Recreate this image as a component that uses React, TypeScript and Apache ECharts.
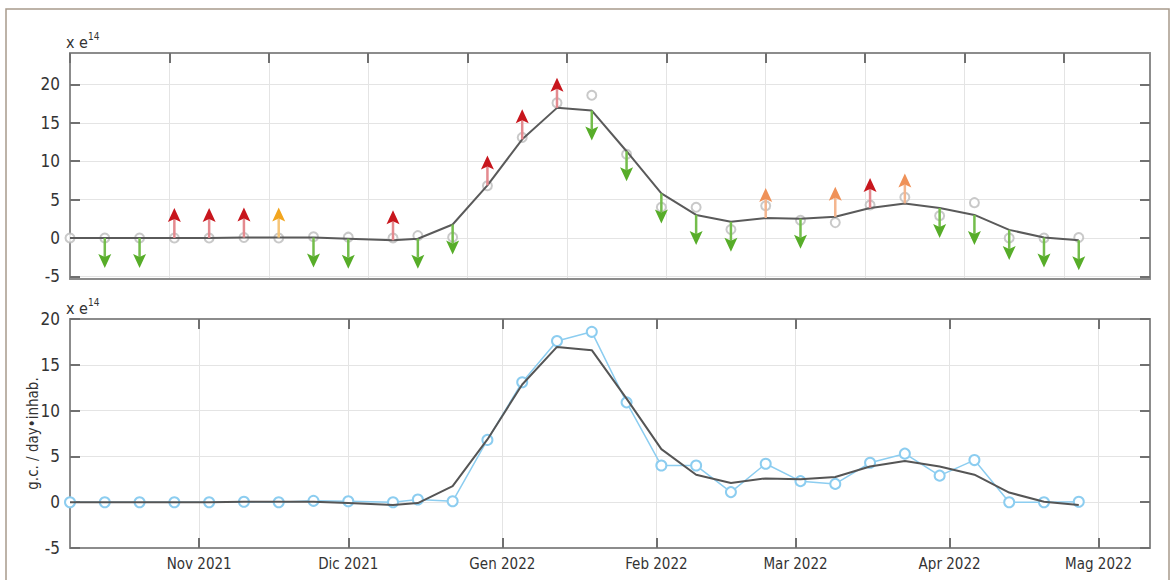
import { useEffect, useRef } from 'react';
import * as echarts from 'echarts';

// ---- data (values in units of e14 g.c./day·inhab.) ----
const dates = [
  '2021-10-06', '2021-10-13', '2021-10-20', '2021-10-27', '2021-11-03', '2021-11-10',
  '2021-11-17', '2021-11-24', '2021-12-01', '2021-12-10', '2021-12-15', '2021-12-22',
  '2021-12-29', '2022-01-05', '2022-01-12', '2022-01-19', '2022-01-26', '2022-02-02',
  '2022-02-09', '2022-02-16', '2022-02-23', '2022-03-02', '2022-03-09', '2022-03-16',
  '2022-03-23', '2022-03-30', '2022-04-06', '2022-04-13', '2022-04-20', '2022-04-27',
];
const observed = [
  0, 0, 0, 0, 0, 0.05, 0, 0.15, 0.1, 0, 0.3, 0.1,
  6.8, 13.1, 17.6, 18.6, 10.9, 4.0, 4.0, 1.1, 4.2, 2.3,
  2.0, 4.3, 5.3, 2.9, 4.6, 0, 0, 0.05,
];
const trend = [
  0, 0, 0, 0, 0, 0.05, 0.05, 0.05, -0.1, -0.3, -0.1, 1.75,
  6.85, 12.85, 16.95, 16.6, 11.3, 5.8, 3.0, 2.1, 2.6, 2.5,
  2.75, 3.9, 4.5, 3.9, 3.0, 1.05, 0.05, -0.3,
];
const signals = [
  '', 'decrease', 'decrease', 'increase', 'increase', 'increase',
  'increaseLow', 'decrease', 'decrease', 'increase', 'decrease', 'decrease',
  'increase', 'increase', 'increase', 'decrease', 'decrease', 'decrease',
  'decrease', 'decrease', 'increaseMid', 'decrease', 'increaseMid', 'increase',
  'increaseMid', 'decrease', 'decrease', 'decrease', 'decrease', 'decrease',
];
const monthTicks = ['2021-11-01', '2021-12-01', '2022-01-01', '2022-02-01', '2022-03-01', '2022-04-01', '2022-05-01'];
const monthLabels = ['Nov 2021', 'Dic 2021', 'Gen 2022', 'Feb 2022', 'Mar 2022', 'Apr 2022', 'Mag 2022'];
const yTicksTop = [-5, 0, 5, 10, 15, 20];
const yTicksBottom = [-5, 0, 5, 10, 15, 20];
const topGridStepDays = 20;

// ---- helpers ----
const ts = (s: string) => {
  const [y, m, d] = s.split('-').map(Number);
  return Date.UTC(y, m - 1, d);
};
const DAY = 864e5;
const X_MIN = ts('2021-10-06');
const X_MAX = ts('2022-05-11') + 8 * 3600e3;
const topGridTicks: number[] = [];
for (let t = X_MIN; t <= X_MAX; t += topGridStepDays * DAY) topGridTicks.push(t);
const monthTickTimes = monthTicks.map(ts);

const FONT = "'DejaVu Sans Condensed', 'DejaVu Sans', sans-serif";
const AXIS_COLOR = '#8c8c8c';
const GRID_COLOR = '#e4e4e4';
const TEXT_COLOR = '#333333';

const SIGNAL_STYLE: Record<string, { dir: number; head: string; shaft: string }> = {
  increase: { dir: 1, head: '#c8161d', shaft: '#e48a8f' },
  increaseLow: { dir: 1, head: '#f2a51e', shaft: '#f6c67a' },
  increaseMid: { dir: 1, head: '#ef9158', shaft: '#f4b68f' },
  decrease: { dir: -1, head: '#57ad29', shaft: '#74bd4c' },
};

export default function App() {
  const ref = useRef<HTMLDivElement>(null);

  useEffect(() => {
    if (!ref.current) return;
    const chart = echarts.init(ref.current, undefined, { renderer: 'svg' });

    const obsData = dates.map((d, i) => [ts(d), observed[i]]);
    const trendData = dates.map((d, i) => [ts(d), trend[i]]);

    const baseX = (gridIndex: number, position: 'top' | 'bottom', custom: number[], opts: any) => ({
      type: 'value',
      gridIndex,
      position,
      min: X_MIN,
      max: X_MAX,
      axisLine: { show: true, onZero: false, lineStyle: { color: AXIS_COLOR, width: 2 } },
      axisTick: { show: opts.tick, inside: true, length: 10, customValues: custom, lineStyle: { color: '#707070', width: 2 } },
      axisLabel: opts.label
        ? {
            show: true,
            customValues: custom,
            margin: 8,
            color: TEXT_COLOR,
            fontSize: 15,
            fontFamily: FONT,
            formatter: (v: number) => {
              const i = monthTickTimes.indexOf(v);
              return i >= 0 ? monthLabels[i] : '';
            },
          }
        : { show: false, customValues: custom },
      splitLine: { show: opts.split, lineStyle: { color: GRID_COLOR, width: 1 } },
    });

    const baseY = (gridIndex: number, position: 'left' | 'right', min: number, max: number, ticks: number[], opts: any) => ({
      type: 'value',
      gridIndex,
      position,
      min,
      max,
      name: opts.name || '',
      nameLocation: 'middle',
      nameGap: 30,
      nameMoveOverlap: false,
      nameTextStyle: { color: TEXT_COLOR, fontSize: 15, fontFamily: FONT },
      axisLine: { show: true, onZero: false, lineStyle: { color: AXIS_COLOR, width: 2 } },
      axisTick: { show: true, inside: true, length: 10, customValues: ticks, lineStyle: { color: '#707070', width: 2 } },
      axisLabel: opts.label
        ? { show: true, customValues: ticks, margin: 10, color: TEXT_COLOR, fontSize: 17, fontFamily: FONT }
        : { show: false, customValues: ticks },
      splitLine: { show: opts.split, lineStyle: { color: GRID_COLOR, width: 1 } },
    });

    const expLabel = (y: number) => [
      { type: 'text', x: 66, y, style: { text: 'x', fontSize: 16, fontFamily: FONT, fill: TEXT_COLOR, verticalAlign: 'middle' } },
      { type: 'text', x: 79, y, style: { text: 'e', fontSize: 16, fontFamily: FONT, fill: TEXT_COLOR, verticalAlign: 'middle' } },
      { type: 'text', x: 88, y: y - 6, style: { text: '14', fontSize: 10, fontFamily: FONT, fill: TEXT_COLOR, verticalAlign: 'middle' } },
    ];

    const option: any = {
      animation: false,
      backgroundColor: '#ffffff',
      grid: [
        { left: 70, top: 53, width: 1080, height: 226 },
        { left: 70, top: 319, width: 1080, height: 229 },
      ],
      xAxis: [
        baseX(0, 'bottom', topGridTicks, { tick: false, label: false, split: true }),
        baseX(0, 'top', topGridTicks, { tick: true, label: false, split: false }),
        baseX(1, 'bottom', monthTickTimes, { tick: true, label: true, split: true }),
        baseX(1, 'top', monthTickTimes, { tick: true, label: false, split: false }),
      ],
      yAxis: [
        baseY(0, 'left', -5.35, 24.1, yTicksTop, { label: true, split: true }),
        baseY(0, 'right', -5.35, 24.1, yTicksTop, { label: false, split: false }),
        baseY(1, 'left', -5, 20, yTicksBottom, { label: true, split: true, name: 'g.c. / day•inhab.' }),
        baseY(1, 'right', -5, 20, yTicksBottom, { label: false, split: false }),
      ],
      graphic: [
        {
          type: 'rect',
          shape: { x: 6, y: 9, width: 1163, height: 620 },
          style: { fill: 'none', stroke: '#a89a8c', lineWidth: 1.5 },
          silent: true,
        },
        ...expLabel(42),
        ...expLabel(308),
      ],
      series: [
        // top panel
        {
          type: 'scatter',
          xAxisIndex: 0,
          yAxisIndex: 0,
          data: obsData,
          symbol: 'emptyCircle',
          symbolSize: 9,
          itemStyle: { color: '#bcbcbc', borderWidth: 1.5 },
          z: 2,
        },
        {
          type: 'line',
          xAxisIndex: 0,
          yAxisIndex: 0,
          data: trendData,
          showSymbol: false,
          lineStyle: { color: '#5a5a5a', width: 2 },
          z: 3,
        },
        {
          type: 'custom',
          xAxisIndex: 0,
          yAxisIndex: 0,
          data: trendData,
          z: 4,
          renderItem: (params: any, api: any) => {
            const kind = signals[params.dataIndex];
            const st = SIGNAL_STYLE[kind];
            if (!st) return { type: 'group', children: [] };
            const p = api.coord([api.value(0), api.value(1)]);
            const x = p[0];
            const y = p[1];
            const L = 30;
            const H = 14;
            const W = 6.5;
            const tipY = y - st.dir * L;
            const baseY2 = tipY + st.dir * H;
            const notchY = tipY + st.dir * (H - 3);
            return {
              type: 'group',
              children: [
                { type: 'line', shape: { x1: x, y1: y, x2: x, y2: notchY }, style: { stroke: st.shaft, lineWidth: 2.5 } },
                {
                  type: 'polygon',
                  shape: { points: [[x, tipY], [x + W, baseY2], [x, notchY], [x - W, baseY2]] },
                  style: { fill: st.head },
                },
              ],
            };
          },
        },
        // bottom panel
        {
          type: 'line',
          xAxisIndex: 2,
          yAxisIndex: 2,
          data: obsData,
          symbol: 'emptyCircle',
          symbolSize: 10,
          showSymbol: true,
          lineStyle: { color: '#8ccdf0', width: 1.5 },
          itemStyle: { color: '#8ccdf0', borderWidth: 1.5 },
          z: 2,
        },
        {
          type: 'line',
          xAxisIndex: 2,
          yAxisIndex: 2,
          data: trendData,
          showSymbol: false,
          lineStyle: { color: '#555555', width: 2 },
          z: 3,
        },
      ],
    };

    chart.setOption(option);
    return () => chart.dispose();
  }, []);

  return (
    <div
      ref={ref}
      style={{ position: 'fixed', left: 0, top: 0, width: 1174, height: 580, background: '#fff' }}
    />
  );
}
